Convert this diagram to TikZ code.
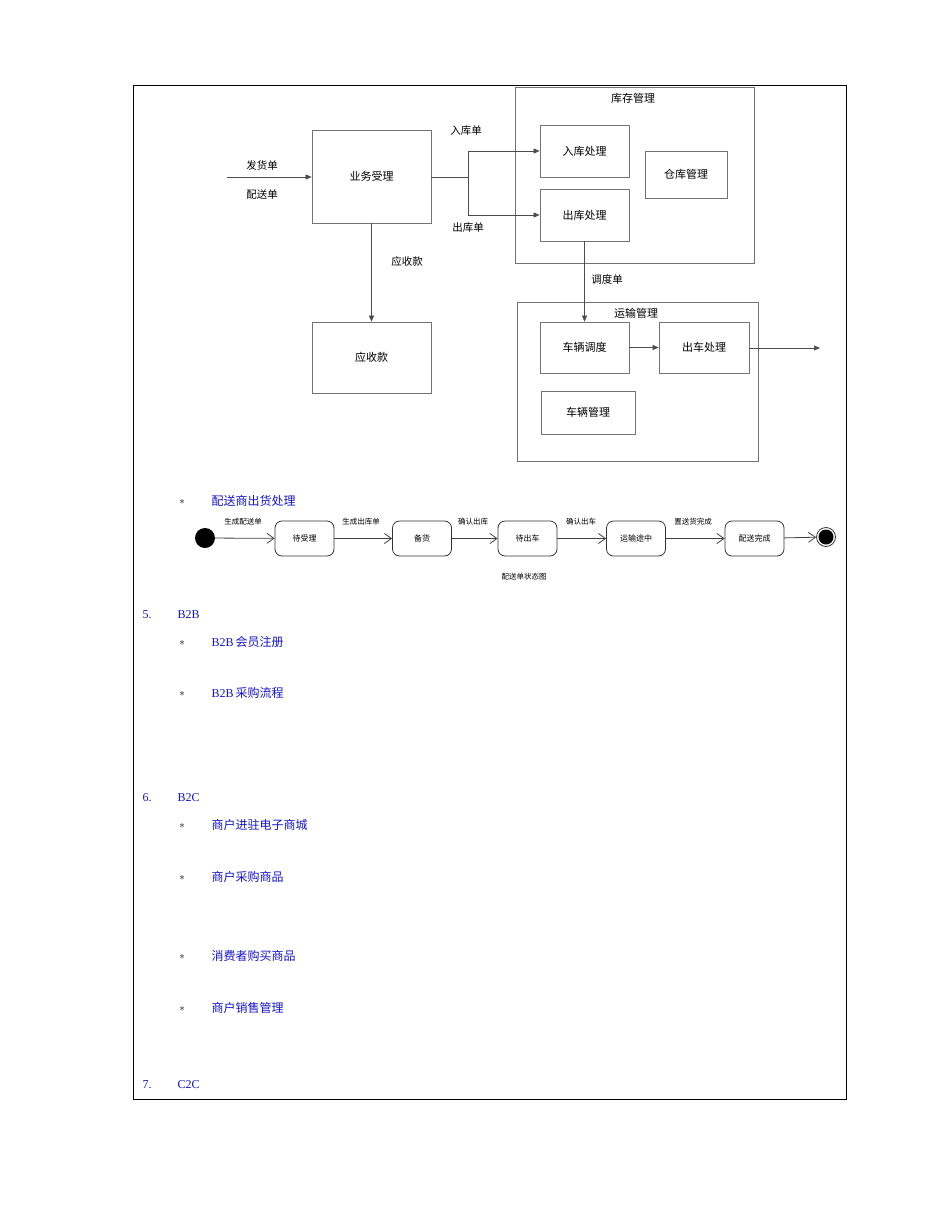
\documentclass[tikz,border=0pt]{standalone}
\usepackage{fontspec}
\setmainfont{Liberation Serif}
\newfontfamily\cjk{Noto Sans CJK SC}
\usetikzlibrary{arrows.meta}
\definecolor{listblue}{RGB}{20,20,200}
\begin{document}
\begin{tikzpicture}[x=1pt,y=-1pt,
  box/.style={draw=black!55,line width=0.7pt,inner sep=0pt},
  lbl/.style={font=\cjk\fontsize{10.5}{12}\selectfont},
  blbl/.style={font=\cjk\fontsize{11}{13}\selectfont},
  arr/.style={draw=black!70,line width=0.6pt,-{Triangle[length=6pt,width=5pt]}},
  st/.style={draw=black!80,rounded corners=7pt,line width=0.8pt,minimum width=59pt,minimum height=35pt,font=\cjk\fontsize{8}{9}\selectfont},
  sarr/.style={draw=black!75,line width=0.8pt,-{Straight Barb[length=7pt,width=10pt]}},
  slbl/.style={font=\cjk\fontsize{7.5}{9}\selectfont,anchor=south},
  item/.style={text=listblue,font=\cjk\fontsize{12}{14}\selectfont,anchor=west},
  star/.style={font=\fontsize{11}{13}\selectfont,anchor=center}]
\useasboundingbox (0,0) rectangle (950,1212);
\draw[black,line width=0.6pt] (133,85) rectangle (846,1099);
% top diagram
\draw[box] (515,87) rectangle (754,263);
\node[blbl] (kc) at (633,98) {库存管理};
\draw[box] (517,302) rectangle (758,461);
\node[blbl] (ys) at (636,313) {运输管理};
\node[box,minimum width=89pt,minimum height=52pt,blbl] (rk) at (584.5,151) {入库处理};
\node[box,minimum width=89pt,minimum height=52pt,blbl] (ck) at (584.5,215) {出库处理};
\node[box,minimum width=82pt,minimum height=47pt,blbl] (cg) at (686,174.5) {仓库管理};
\node[box,minimum width=119pt,minimum height=93pt,blbl] (yw) at (371.5,176.5) {业务受理};
\node[box,minimum width=119pt,minimum height=71pt,blbl] (ysk) at (371.5,357.5) {应收款};
\node[box,minimum width=89pt,minimum height=51pt,blbl] (cd) at (584.5,347.5) {车辆调度};
\node[box,minimum width=90pt,minimum height=51pt,blbl] (cc) at (704,347.5) {出车处理};
\node[box,minimum width=94pt,minimum height=43pt,blbl] (cl) at (588,412.5) {车辆管理};
\coordinate (in) at (227,177);
\coordinate (out) at (820,348);
\coordinate (br) at (468,177);
\draw[arr] (in) -- (yw.west |- in);
\node[lbl] at (262,165) {发货单};
\node[lbl] at (262,195) {配送单};
\draw[draw=black!70,line width=0.6pt] (yw.east |- br) -- (br);
\draw[arr] (br) |- (rk.west);
\draw[arr] (br) |- (ck.west);
\node[lbl] at (466,131) {入库单};
\node[lbl] at (468,228) {出库单};
\draw[arr] (yw.south) -- (ysk.north);
\node[lbl] at (407,262) {应收款};
\draw[arr] (ck.south) -- (cd.north);
\node[lbl] at (607,279) {调度单};
\draw[arr] (cd.east) -- (cc.west);
\draw[arr] (cc.east |- out) -- (out);
% bullet 1
\node[star] at (182,502) {$\ast$};
\node[item] at (208,501) {配送商出货处理};
% state diagram
\node[circle,fill=black,minimum size=20pt,inner sep=0pt] (s0) at (205,538) {};
\node[st] (a) at (304.5,538.5) {待受理};
\node[st] (b) at (422,538.5) {备货};
\node[st] (c) at (527.5,538.5) {待出车};
\node[st] (d) at (636,538.5) {运输途中};
\node[st] (e) at (754.5,538.5) {配送完成};
\node[circle,draw=black!80,line width=0.8pt,minimum size=19pt,inner sep=0pt] (s1) at (826,537) {};
\fill (s1) circle (7.5pt);
\draw[sarr] (s0) -- (a);
\draw[sarr] (a) -- (b);
\draw[sarr] (b) -- (c);
\draw[sarr] (c) -- (d);
\draw[sarr] (d) -- (e);
\draw[sarr] (e) -- (s1);
\node[slbl] at (243,529) {生成配送单};
\node[slbl] at (361,529) {生成出库单};
\node[slbl] at (473,529) {确认出库};
\node[slbl] at (581,529) {确认出车};
\node[slbl] at (693,529) {置送货完成};
\node[font=\cjk\fontsize{7.5}{9}\selectfont] at (524,577) {配送单状态图};
% list
\node[item,text=listblue,font=\fontsize{12}{14}\selectfont] at (139,615) {5.};
\node[item,font=\fontsize{12}{14}\selectfont] at (174,615) {B2B};
\node[star] at (182,643) {$\ast$};
\node[item] at (208,642) {\fontspec{Liberation Serif}B2B\,{\cjk 会员注册}};
\node[star] at (182,694) {$\ast$};
\node[item] at (208,693) {\fontspec{Liberation Serif}B2B\,{\cjk 采购流程}};
\node[item,font=\fontsize{12}{14}\selectfont] at (139,798) {6.};
\node[item,font=\fontsize{12}{14}\selectfont] at (174,798) {B2C};
\node[star] at (182,826) {$\ast$};
\node[item] at (208,825) {商户进驻电子商城};
\node[star] at (182,878) {$\ast$};
\node[item] at (208,877) {商户采购商品};
\node[star] at (182,957) {$\ast$};
\node[item] at (208,956) {消费者购买商品};
\node[star] at (182,1009) {$\ast$};
\node[item] at (208,1008) {商户销售管理};
\node[item,font=\fontsize{12}{14}\selectfont] at (139,1085) {7.};
\node[item,font=\fontsize{12}{14}\selectfont] at (174,1085) {C2C};
\end{tikzpicture}
\end{document}
